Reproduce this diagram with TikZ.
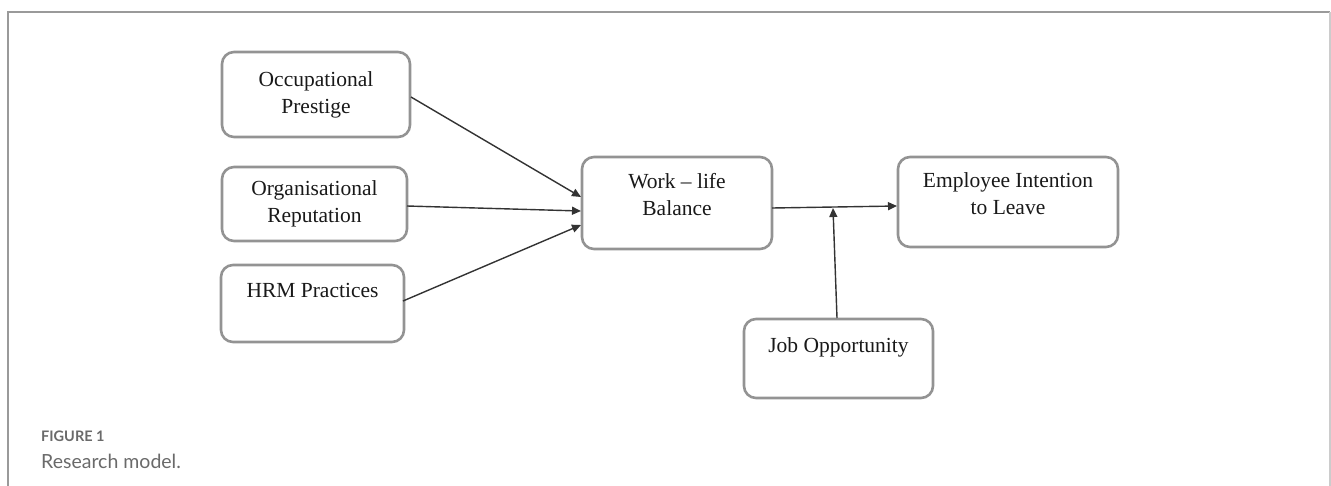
\documentclass[tikz,border=0pt]{standalone}
\usepackage{fontspec}
\setmainfont{Liberation Serif}
\newfontfamily\capfont{Lato}
\usetikzlibrary{arrows.meta}
\definecolor{boxgray}{HTML}{939393}
\definecolor{framegray}{HTML}{9A9A9A}
\definecolor{capgray}{HTML}{6A6A6A}
\definecolor{linegray}{HTML}{333333}
\tikzset{
  mbox/.style={draw=boxgray, line width=2.6pt, rounded corners=12pt, inner sep=0pt,
    align=center, font=\fontsize{21.5}{27}\selectfont, text=black!90},
  conn/.style={draw=linegray, line width=1.4pt, -{Triangle[length=9pt,width=8pt]}},
}
\begin{document}
\begin{tikzpicture}[x=1pt,y=-1pt]
\useasboundingbox (0,0) rectangle (1331,485);
% frame
\draw[framegray, line width=1.3pt] (8,490) -- (8,12) -- (1330,12);
\draw[black!20, line width=1.3pt] (1330,12) -- (1330,490);
% boxes
\node[mbox, minimum width=188pt, minimum height=85pt] (op) at (316,94.5) {Occupational\\Prestige};
\node[mbox, minimum width=185pt, minimum height=74pt] (or) at (314.5,204) {Organisational\\Reputation};
\node[mbox, minimum width=183pt, minimum height=77pt] (hrm) at (312.5,303.5) {HRM Practices\\\mbox{}};
\node[mbox, minimum width=190pt, minimum height=92pt] (wlb) at (677,203) {Work -- life\\Balance\\[-10pt]\mbox{}};
\node[mbox, minimum width=220pt, minimum height=90pt] (eil) at (1008,202) {Employee Intention\\to Leave\\[-10pt]\mbox{}};
\node[mbox, minimum width=189pt, minimum height=79pt] (jo) at (838.5,358.5) {Job Opportunity\\\mbox{}};
% connectors
\coordinate (opS) at (411,97);
\coordinate (orS) at (407,206);
\coordinate (hrmS) at (403,301);
\coordinate (w1) at (581,197);
\coordinate (w2) at (581,211);
\coordinate (w3) at (581,225);
\coordinate (wlbE) at (772,208);
\coordinate (eilW) at (897,206);
\coordinate (mid) at (833,208);
\coordinate (joN) at (837,318);
\draw[conn] (opS) -- (w1);
\draw[conn] (orS) -- (w2);
\draw[conn] (hrmS) -- (w3);
\draw[conn] (wlbE) -- (eilW);
\draw[conn] (joN) -- (mid);
% caption
\node[anchor=west, inner sep=0pt, text=capgray, font=\capfont\bfseries\fontsize{14.5}{16}\selectfont] (fig) at (41,436) {FIGURE 1};
\node[anchor=west, inner sep=0pt, text=capgray, font=\capfont\fontsize{19.5}{22}\selectfont] (cap) at (41,461) {Research model.};
\end{tikzpicture}
\end{document}
